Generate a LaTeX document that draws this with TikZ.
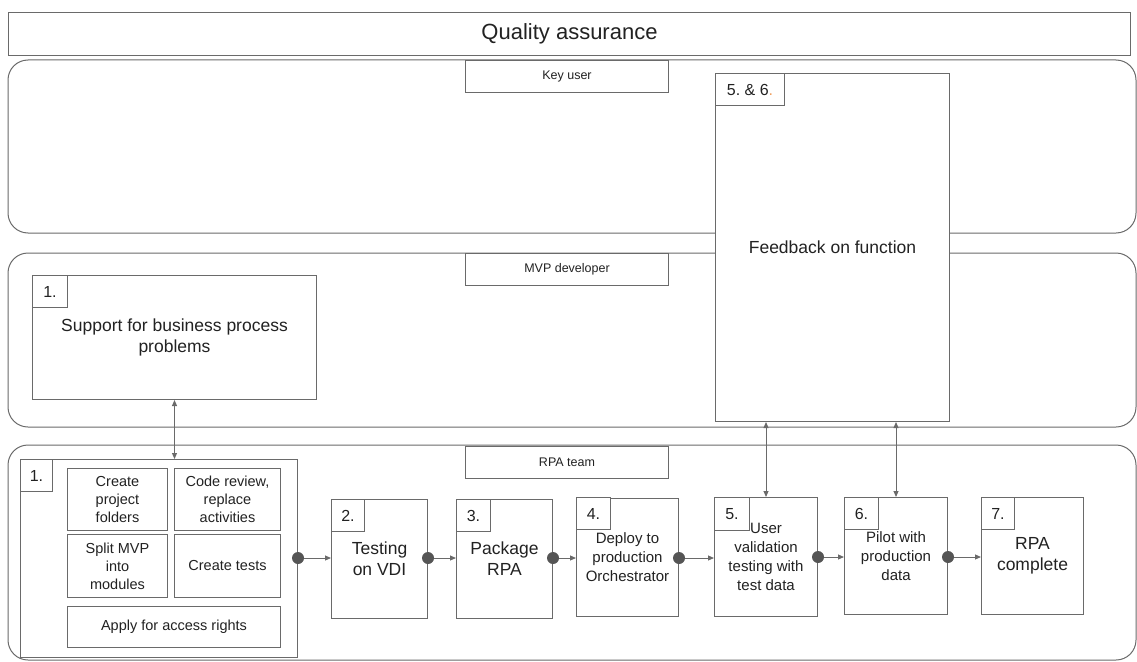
\documentclass[tikz,border=0pt]{standalone}
\usepackage{fontspec}
\setmainfont{Liberation Sans}
\usetikzlibrary{arrows.meta}
\frenchspacing
\definecolor{edge}{HTML}{6A6A6A}
\definecolor{dotc}{HTML}{555555}
\definecolor{ink}{HTML}{222222}
\definecolor{accent}{HTML}{F0A060}
\tikzset{
  box/.style={draw=edge, line width=1pt, fill=white, anchor=north west, inner sep=0pt, text=ink, align=center},
  lane/.style={draw=edge, line width=1pt, rounded corners=20pt},
  tag/.style={box, font=\fontsize{16}{16}\selectfont},
  small/.style={font=\fontsize{14.5}{18}\selectfont},
  mid/.style={font=\fontsize{15}{19}\selectfont},
  big/.style={font=\fontsize{17.5}{21}\selectfont},
  lbl/.style={box, minimum width=203pt, minimum height=32pt, font=\fontsize{12.5}{14}\selectfont},
  arr/.style={draw=edge, line width=1pt, -{Triangle[length=6pt,width=5pt]}},
  biarr/.style={draw=edge, line width=1pt, {Triangle[length=6pt,width=5pt]}-{Triangle[length=6pt,width=5pt]}},
  dot/.style={circle, fill=dotc, inner sep=0pt, minimum size=12pt},
  sz/.style 2 args={minimum width=#1pt, minimum height=#2pt},
}
\begin{document}
\begin{tikzpicture}[x=1pt,y=-1pt]
\useasboundingbox (0,0) rectangle (1137,661);

% title bar
\node[box, sz={1122}{43}, font=\fontsize{22}{24}\selectfont] (qa) at (8,12) {Quality assurance};

% swim lanes
\draw[lane] (8,60) rectangle (1136,233);
\draw[lane] (8,253) rectangle (1136,427);
\draw[lane] (8,445) rectangle (1136,660);
\node[lbl] (kulabel) at (465,60) {Key user};
\node[lbl] (mvplabel) at (465,253) {MVP developer};
\node[lbl] (rpalabel) at (465,446) {RPA team};

% key user feedback
\node[box, sz={234}{348}, font=\fontsize{17.5}{21}\selectfont] (fb) at (715,73) {Feedback on function};
\node[tag, sz={69}{32}] (fbtag) at (715,73) {5. \& 6\textcolor{accent}{.}};

% MVP developer support
\node[box, sz={284}{124}, font=\fontsize{17.5}{21}\selectfont] (sup) at (32,275) {Support for business process\\problems};
\node[tag, sz={35}{32}] (suptag) at (32,275) {1.};

% step 1 group
\node[box, sz={277}{198}] (g1) at (20,459) {};
\node[tag, sz={32}{32}] (g1tag) at (20,459) {1.};
\node[box, small, sz={100}{62}] (folders) at (67,468) {Create\\project\\folders};
\node[box, small, sz={106}{62}] (review) at (174,468) {Code review,\\replace\\activities};
\node[box, small, sz={100}{63}] (split) at (67,534) {Split MVP\\into\\modules};
\node[box, small, sz={106}{63}] (tests) at (174,534) {Create tests};
\node[box, small, sz={213}{41}] (rights) at (67,606) {Apply for access rights};

% steps 2 to 7
\node[box, big, sz={96}{119}] (s2) at (331,499) {Testing\\on VDI};
\node[tag, sz={33}{32}] at (331,499) {2.};
\node[box, big, sz={96}{119}] (s3) at (456,499) {Package\\RPA};
\node[tag, sz={34}{32}] at (456,499) {3.};
\node[box, mid, sz={102}{118}] (s4) at (576,498) {Deploy to\\production\\Orchestrator};
\node[tag, sz={34}{32}] at (576,497) {4.};
\node[box, mid, sz={103}{119}] (s5) at (714,497) {User\\validation\\testing with\\test data};
\node[tag, sz={35}{33}] at (714,497) {5.};
\node[box, mid, sz={103}{117}] (s6) at (844,497) {Pilot with\\production\\data};
\node[tag, sz={34}{32}] at (844,497) {6.};
\node[box, big, sz={102}{117}] (s7) at (981,497) {RPA\\complete};
\node[tag, sz={33}{32}] at (981,497) {7.};

% flow connectors
\node[dot] (d1) at (g1.east |- 0,558) {};
\node[dot] (d2) at (s2.east |- 0,558) {};
\node[dot] (d3) at (s3.east |- 0,558) {};
\node[dot] (d4) at (s4.east |- 0,558) {};
\node[dot] (d5) at (s5.east |- 0,557) {};
\node[dot] (d6) at (s6.east |- 0,557) {};
\draw[arr] (d1) -- (d1 -| s2.west);
\draw[arr] (d2) -- (d2 -| s3.west);
\draw[arr] (d3) -- (d3 -| s4.west);
\draw[arr] (d4) -- (d4 -| s5.west);
\draw[arr] (d5) -- (d5 -| s6.west);
\draw[arr] (d6) -- (d6 -| s7.west);

% links between lanes
\draw[biarr] (sup.south) -- (sup.south |- g1.north);
\draw[biarr] (s5.north |- fb.south) -- (s5.north);
\draw[biarr] (s6.north |- fb.south) -- (s6.north);
\end{tikzpicture}
\end{document}
